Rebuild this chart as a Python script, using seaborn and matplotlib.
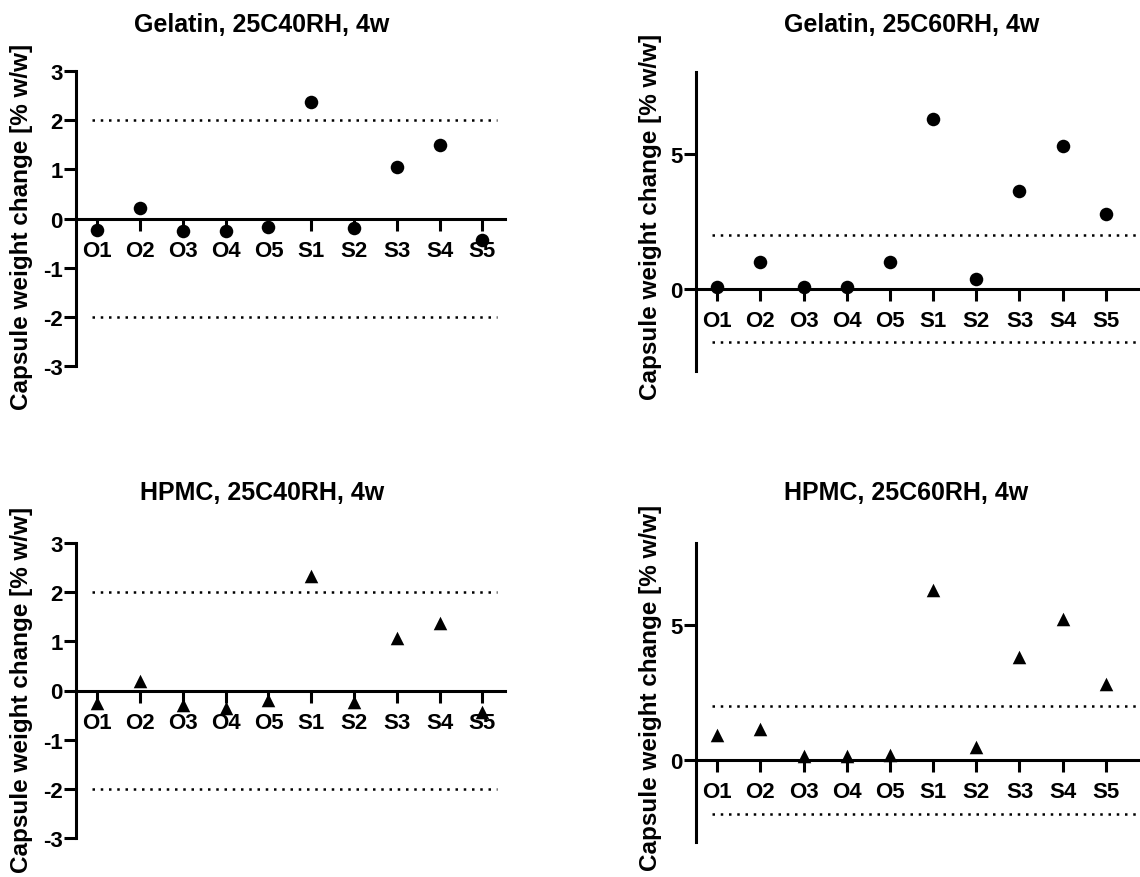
import matplotlib
matplotlib.use("Agg")
import matplotlib.pyplot as plt
import seaborn as sns
import pandas as pd

categories = ["O1", "O2", "O3", "O4", "O5", "S1", "S2", "S3", "S4", "S5"]
gel_40 = [-0.24, 0.21, -0.25, -0.25, -0.18, 2.36, -0.20, 1.04, 1.50, -0.43]
gel_60 = [0.06, 0.97, 0.07, 0.07, 0.97, 6.29, 0.37, 3.63, 5.28, 2.75]
hpmc_40 = [-0.25, 0.20, -0.29, -0.35, -0.19, 2.32, -0.23, 1.06, 1.37, -0.43]
hpmc_60 = [0.91, 1.16, 0.13, 0.13, 0.18, 6.30, 0.46, 3.80, 5.23, 2.80]
titles = ["Gelatin, 25C40RH, 4w", "Gelatin, 25C60RH, 4w",
          "HPMC, 25C40RH, 4w", "HPMC, 25C60RH, 4w"]
ylabel = "Capsule weight change [% w/w]"
limits = [-2, 2]

sns.set_theme(style="white")
plt.rcParams['font.family'] = ['Liberation Sans', 'DejaVu Sans']
plt.rcParams['font.weight'] = 'bold'

W, H = 1140, 878
fig = plt.figure(figsize=(W / 100, H / 100), dpi=100)

def px_axes(left, right, top, bottom):
    return fig.add_axes([left / W, 1 - bottom / H, (right - left) / W, (bottom - top) / H])

panels = [
    dict(vals=gel_40, marker="o", box=(76, 505, 72, 367), xlim=(-0.5, 9.53), ylim=(-3, 3),
         yticks=[-3, -2, -1, 0, 1, 2, 3], title=titles[0], tpos=(262, 25), lpos=(22, 227), dot_end=9.35),
    dict(vals=gel_60, marker="o", box=(696, 1140, 72.7, 371.7), xlim=(-0.49, 9.79), ylim=(-3.05, 8.05),
         yticks=[0, 5], title=titles[1], tpos=(912, 25), lpos=(650, 217), dot_end=10.5),
    dict(vals=hpmc_40, marker="^", box=(76, 505, 544, 839), xlim=(-0.5, 9.53), ylim=(-3, 3),
         yticks=[-3, -2, -1, 0, 1, 2, 3], title=titles[2], tpos=(262, 493), lpos=(22, 690), dot_end=9.35),
    dict(vals=hpmc_60, marker="^", box=(696, 1140, 544, 843), xlim=(-0.49, 9.79), ylim=(-3.05, 8.05),
         yticks=[0, 5], title=titles[3], tpos=(906, 493), lpos=(650, 688), dot_end=10.5),
]

for p in panels:
    ax = px_axes(*p["box"])
    df = pd.DataFrame({"cat": categories, "val": p["vals"]})
    sns.scatterplot(data=df, x="cat", y="val", ax=ax, marker=p["marker"], color="black",
                    s=95, edgecolor="black", linewidth=0, zorder=3, clip_on=False)
    for lv in limits:
        ax.plot([-0.12, p["dot_end"]], [lv, lv], color="black", lw=1.8,
                linestyle=(0, (1, 2.3)), zorder=1, clip_on=True)
    ax.set_xlim(*p["xlim"])
    ax.set_ylim(*p["ylim"])
    ax.set_yticks(p["yticks"])
    ax.set_yticklabels([str(t) for t in p["yticks"]])
    ax.set_xticks(range(len(categories)))
    ax.set_xticklabels(categories)
    ax.set_xlabel("")
    ax.set_ylabel("")
    for s in ["top", "right"]:
        ax.spines[s].set_visible(False)
    ax.spines["bottom"].set_position(("data", 0))
    for s in ["left", "bottom"]:
        ax.spines[s].set_linewidth(2.2)
        ax.spines[s].set_color("black")
    ax.tick_params(axis="both", direction="out", length=8.5, width=2.2, color="black",
                   labelsize=16, labelcolor="black", bottom=True, left=True)
    ax.tick_params(axis="x", pad=7)
    ax.tick_params(axis="y", pad=1)
    for lab in ax.get_xticklabels() + ax.get_yticklabels():
        lab.set_fontweight("bold")
    ax.set_facecolor("none")
    fig.text(p["tpos"][0] / W, 1 - p["tpos"][1] / H, p["title"], ha="center", va="center",
             fontsize=18, fontweight="bold", color="black")
    fig.text(p["lpos"][0] / W, 1 - p["lpos"][1] / H, ylabel, ha="center", va="center",
             rotation=90, fontsize=17.5, fontweight="bold", color="black")

fig.savefig("out.png", dpi=100, facecolor="white")
